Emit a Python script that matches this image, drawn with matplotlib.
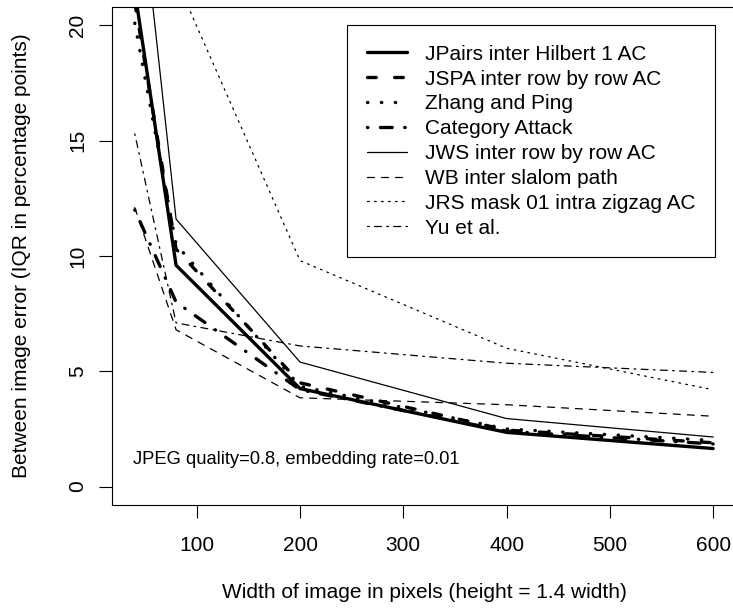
import matplotlib
matplotlib.use("Agg")
from matplotlib import pyplot as plt

plt.rcParams['font.family'] = ['Liberation Sans', 'DejaVu Sans']
plt.rcParams['lines.scale_dashes'] = False

# image width (x) and error values per method
widths = [40, 80, 200, 400, 600]
jpairs = [21.5, 9.6, 4.25, 2.35, 1.65]
jspa = [21.0, 10.3, 4.5, 2.45, 1.9]
zhang = [20.1, 10.5, 4.35, 2.5, 2.0]
category = [12.0, 8.0, 4.2, 2.4, 1.85]
jws = [28.0, 11.6, 5.4, 2.95, 2.15]
wb = [12.1, 6.8, 3.85, 3.55, 3.05]
jrs = [35.0, 22.0, 9.8, 6.0, 4.2]
yu = [15.3, 7.1, 6.1, 5.35, 4.95]

names = ["JPairs inter Hilbert 1 AC", "JSPA inter row by row AC", "Zhang and Ping",
         "Category Attack", "JWS inter row by row AC", "WB inter slalom path",
         "JRS mask 01 intra zigzag AC", "Yu et al."]
xticks = [100, 200, 300, 400, 500, 600]
yticks = [0, 5, 10, 15, 20]

# R style line types (thick lwd=2, thin lwd=1), round caps
thick, thin = 2.4, 0.9
u1 = 1.26
styles = [
    (thick, '-'),
    (thick, (0, (6.3, 13.2))),
    (thick, (0, (0.3, 9.7))),
    (thick, (0, (0.3, 9.0, 8.5, 9.0))),
    (thin, '-'),
    (thin, (0, (4 * u1, 4 * u1))),
    (thin, (0, (1 * u1, 3 * u1))),
    (thin, (0, (1 * u1, 3 * u1, 4 * u1, 3 * u1))),
]
series = [jpairs, jspa, zhang, category, jws, wb, jrs, yu]

fig = plt.figure(figsize=(7.33, 6.10), dpi=100)
ax = fig.add_axes([0.1523, 0.1721, 0.8522, 0.8164])

for vals, name, (lw, ls) in zip(series, names, styles):
    ax.plot(widths, vals, color='black', lw=lw, ls=ls, label=name,
            dash_capstyle='round', solid_capstyle='round')

ax.set_xlim(17.6, 622.4)
ax.set_ylim(-0.8, 20.8)
ax.set_xticks(xticks)
ax.set_yticks(yticks)
for s in ax.spines.values():
    s.set_linewidth(0.8)
ax.tick_params(direction='out', length=9.4, width=0.8, labelsize=15)
ax.tick_params(axis='x', pad=13)
ax.tick_params(axis='y', pad=8, labelrotation=90)
for lab in ax.get_yticklabels():
    lab.set_va('center')

ax.set_xlabel("Width of image in pixels (height = 1.4 width)", fontsize=15)
ax.set_ylabel("Between image error (IQR in percentage points)", fontsize=15)
ax.xaxis.set_label_coords(0.5, -0.1747)
ax.xaxis.label.set_va('center')
ax.yaxis.set_label_coords(-0.1436, 0.5)
ax.yaxis.label.set_va('center')

ax.text(0.0343, 0.0904, "JPEG quality=0.8, embedding rate=0.01", fontsize=13.2,
        transform=ax.transAxes, ha='left', va='center')

leg = ax.legend(loc='upper right', bbox_to_anchor=(715 / 733, 1 - 25 / 610),
                bbox_transform=fig.transFigure, borderaxespad=0, fontsize=15,
                fancybox=False, framealpha=1, edgecolor='black',
                handlelength=1.92, handletextpad=0.85, labelspacing=0.28,
                borderpad=0.95)
leg.get_frame().set_linewidth(0.8)

fig.savefig("out.png", dpi=100)
